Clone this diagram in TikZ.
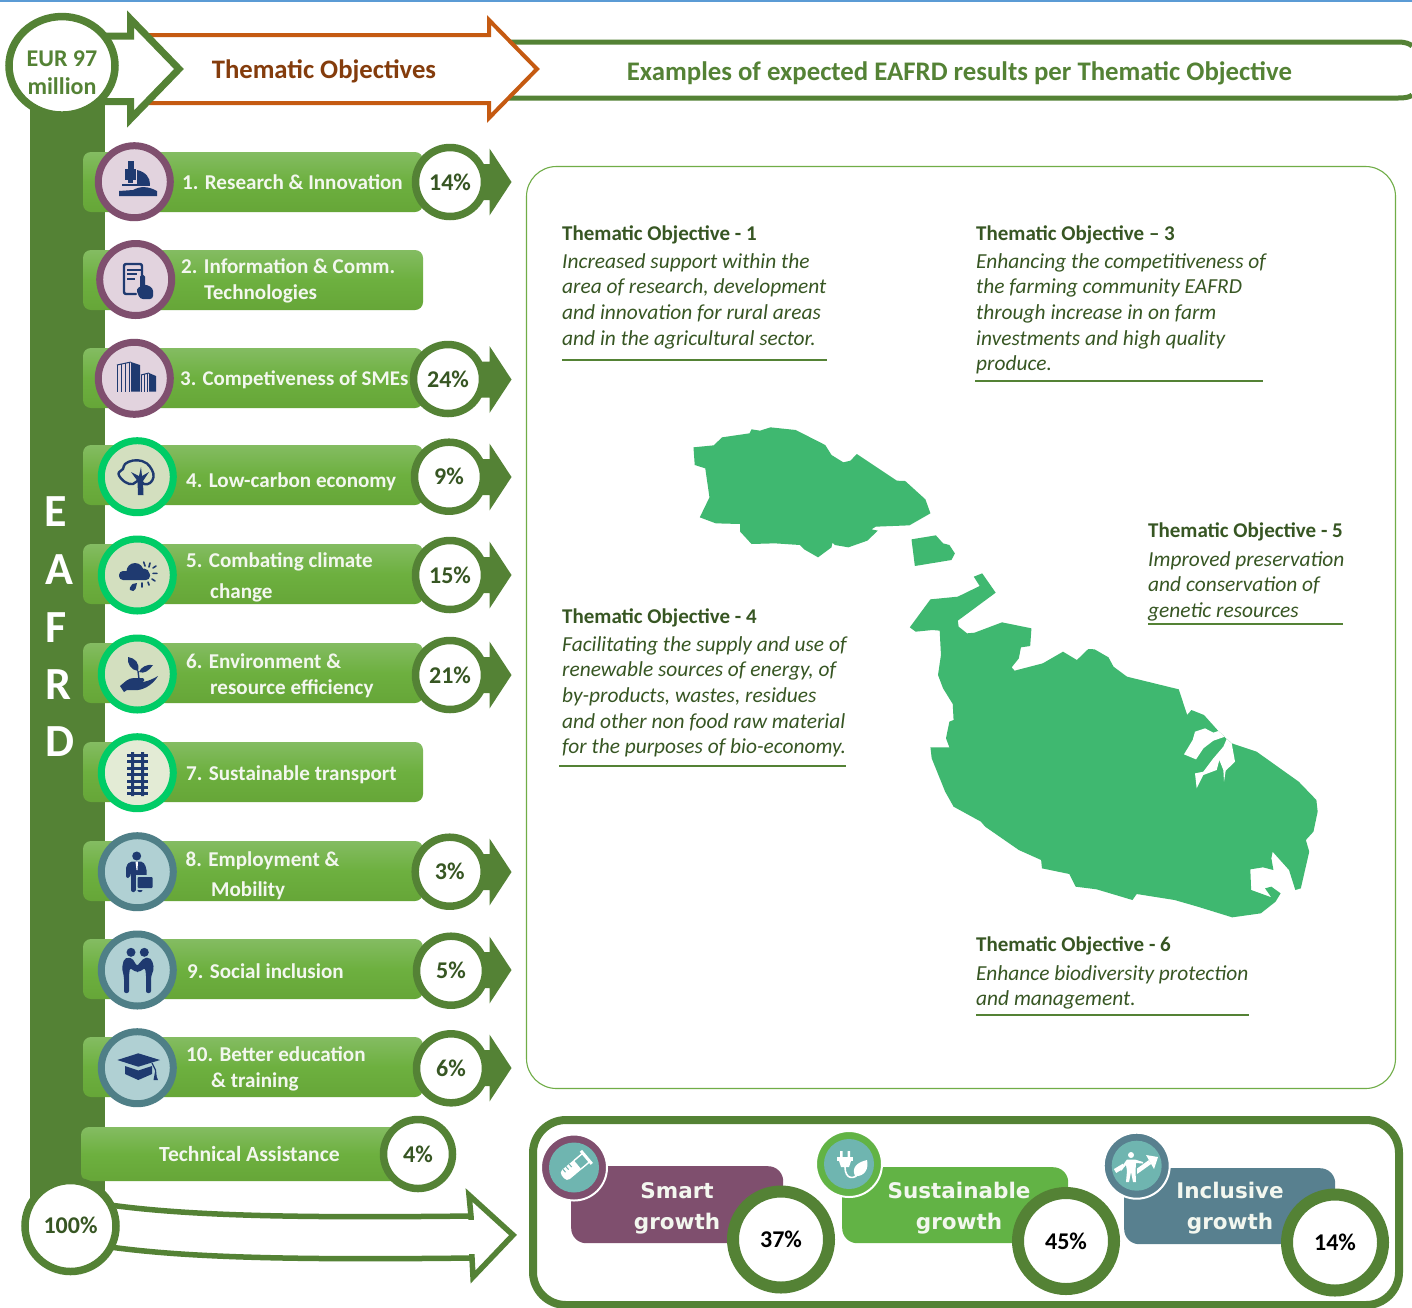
\documentclass[tikz,border=0pt]{standalone}
\usepackage{fontspec}
\usetikzlibrary{shapes.geometric}
\setmainfont{Carlito}
\newfontfamily\dejavu{DejaVu Sans}
\definecolor{band}{HTML}{548235}
\definecolor{dkgreen}{HTML}{375623}
\definecolor{orangeline}{HTML}{C55A11}
\definecolor{brownt}{HTML}{843C0C}
\definecolor{bartop}{HTML}{84BC62}
\definecolor{barmid}{HTML}{6DB03F}
\definecolor{barbot}{HTML}{66A638}
\definecolor{purp}{HTML}{7F4F6E}
\definecolor{purpfill}{HTML}{E2D3DE}
\definecolor{brightg}{HTML}{00CC66}
\definecolor{leaffill}{HTML}{D3DFBF}
\definecolor{railfill}{HTML}{E3EBD5}
\definecolor{tealring}{HTML}{4F7F87}
\definecolor{tealfill}{HTML}{B0D0D3}
\definecolor{navy}{HTML}{1F3A70}
\definecolor{mapg}{HTML}{3FB870}
\definecolor{sgreen}{HTML}{62B345}
\definecolor{steal}{HTML}{58808F}
\definecolor{iconteal}{HTML}{6FB5B0}
\definecolor{panel}{HTML}{70AD47}
\definecolor{bluebar}{HTML}{5B9BD5}
\definecolor{offw}{HTML}{F3F7EF}
\tikzset{
  barbox/.style={rectangle,rounded corners=8pt,minimum height=60pt,top color=bartop,bottom color=barbot,middle color=barmid,inner sep=0pt},
  ringicon/.style={circle,line width=7pt,minimum size=72pt,inner sep=0pt},
  pct/.style={circle,draw=band,fill=white,line width=7.5pt,minimum size=69pt,inner sep=0pt,text=dkgreen,font=\bfseries\fontsize{24}{28}\selectfont},
  barlabel/.style={anchor=base west,inner sep=0pt,text=offw,font=\bfseries\fontsize{21.1}{25}\selectfont},
  tohead/.style={anchor=base west,inner sep=0pt,text=dkgreen,font=\bfseries\fontsize{21}{25}\selectfont},
  tobody/.style={anchor=north west,inner sep=0pt,text=dkgreen,font=\itshape\fontsize{21.4}{25.6}\selectfont,align=left},
  torule/.style={draw=band,line width=2pt},
  growthbox/.style={anchor=north west,rounded corners=15pt,inner sep=0pt},
  growthlabel/.style={text=offw,inner sep=0pt,align=center,font=\dejavu\bfseries\fontsize{21.5}{31}\selectfont},
  bigpct/.style={circle,draw=band,fill=white,line width=12pt,minimum size=96pt,inner sep=0pt,text=black,font=\bfseries\fontsize{24}{28}\selectfont},
  badge/.style={circle,draw=white,line width=2pt,minimum size=66pt,inner sep=0pt},
  badgein/.style={circle,fill=iconteal,minimum size=50pt,inner sep=0pt},
  letter/.style={inner sep=0pt,text=white,font=\bfseries\fontsize{46}{50}\selectfont},
  navyline/.style={draw=navy,line width=2.4pt,line cap=round,line join=round},
  whiteline/.style={draw=white,line width=1.6pt,line cap=round,line join=round},
}
\newcommand{\smallarrow}[1]{\fill[band] (450,#1-18)--(489.5,#1-18)--(489.5,#1-33.5)--(511.5,#1)--(489.5,#1+33.5)--(489.5,#1+18)--(450,#1+18)--cycle;}
\newcommand{\firstline}{\rule{0pt}{16pt}}
\begin{document}
\begin{tikzpicture}[x=1pt,y=-1pt]
\useasboundingbox (0,0) rectangle (1412,1307);
\fill[white] (0,0) rectangle (1412,1307);
\fill[bluebar] (0,0) rectangle (1412,2);
% header arrows
\draw[band,line width=5pt] (505,42)--(1398,42) .. controls (1406,42) and (1410,44) .. (1412,46);
\draw[band,line width=5pt] (505,98)--(1398,98) .. controls (1406,98) and (1410,97) .. (1412,95);
\draw[orangeline,fill=white,line width=4pt,miter limit=6] (130,35)--(489,35)--(489,20)--(537,69)--(489,118)--(489,103)--(130,103)--cycle;
\draw[band,fill=white,line width=7pt,miter limit=6] (60,36)--(130.5,36)--(130.5,19)--(179,69)--(130.5,119)--(130.5,101.5)--(60,101.5)--cycle;
\node[inner sep=0pt,text=brownt,font=\bfseries\fontsize{26.7}{30}\selectfont] (hto) at (324,71) {Thematic Objectives};
\node[inner sep=0pt,text=band,font=\bfseries\fontsize{26.8}{30}\selectfont] (hex) at (959.5,73) {Examples of expected EAFRD results per Thematic Objective};
% band
\fill[band] (29.5,95) rectangle (105,1205);
\node[letter] (lE) at (56,512) {E};
\node[letter] (lA) at (59,570) {A};
\node[letter] (lF) at (56,628) {F};
\node[letter] (lR) at (58,685) {R};
\node[letter] (lD) at (60,742) {D};
\node[ellipse,draw=band,fill=white,line width=7.5pt,minimum width=106pt,minimum height=98.5pt,inner sep=0pt] (eur) at (62,65.8) {};
\node[inner sep=0pt,text=band,align=center,font=\bfseries\fontsize{24}{28}\selectfont] (eurt) at (62,72.5) {EUR 97\\million};
% small arrows
\smallarrow{182}\smallarrow{379.5}\smallarrow{477}\smallarrow{575}\smallarrow{675}\smallarrow{872}\smallarrow{970}\smallarrow{1068}
% bars
\foreach \n/\y in {1/182,2/280,3/378,4/475,5/574,6/673,7/772,8/871,9/969,10/1067}{
  \node[barbox,minimum width=340pt] (bar\n) at (253,\y) {};
}
\node[barbox,minimum width=330pt,minimum height=54pt] (barta) at (246,1154) {};
% bar labels
\node[barlabel] (b1) at (182,189) {1. Research \& Innovation};
\node[barlabel] (b2a) at (181,273) {2. Information \& Comm.};
\node[barlabel] (b2b) at (204,299) {Technologies};
\node[barlabel,font=\bfseries\fontsize{20.9}{25}\selectfont] (b3) at (180,385) {3. Competiveness of SMEs};
\node[barlabel] (b4) at (186,487) {4. Low-carbon economy};
\node[barlabel] (b5a) at (186,567) {5. Combating climate};
\node[barlabel] (b5b) at (210,598) {change};
\node[barlabel] (b6a) at (186,668) {6. Environment \&};
\node[barlabel] (b6b) at (210,694) {resource efficiency};
\node[barlabel] (b7) at (186,780) {7. Sustainable transport};
\node[barlabel] (b8a) at (185.5,866) {8. Employment \&};
\node[barlabel] (b8b) at (211,896) {Mobility};
\node[barlabel] (b9) at (187,978) {9. Social inclusion};
\node[barlabel] (b10a) at (186,1061) {10. Better education};
\node[barlabel] (b10b) at (211,1087) {\& training};
\node[barlabel,font=\bfseries\fontsize{21.6}{25}\selectfont] (bta) at (159,1161) {Technical Assistance};
% pct
\node[pct] (p1) at (450,182) {14\%};
\node[pct] (p3) at (448,379) {24\%};
\node[pct] (p4) at (449,476.7) {9\%};
\node[pct] (p5) at (450,575) {15\%};
\node[pct] (p6) at (450,675) {21\%};
\node[pct] (p8) at (449.7,871.7) {3\%};
\node[pct] (p9) at (451,970.7) {5\%};
\node[pct] (p10) at (451,1068.3) {6\%};
\node[pct] (pta) at (418,1154) {4\%};
% icon rings
\node[ringicon,draw=purp,fill=purpfill] (i1) at (134.3,181.7) {};
\node[ringicon,draw=purp,fill=purpfill] (i2) at (135.7,279.5) {};
\node[ringicon,draw=purp,fill=purpfill] (i3) at (134.3,378.3) {};
\node[ringicon,draw=brightg,fill=leaffill] (i4) at (137.3,476.7) {};
\node[ringicon,draw=brightg,fill=leaffill] (i5) at (137.3,575) {};
\node[ringicon,draw=brightg,fill=leaffill] (i6) at (137.3,674) {};
\node[ringicon,draw=brightg,fill=railfill] (i7) at (137.3,772.7) {};
\node[ringicon,draw=tealring,fill=tealfill] (i8) at (137.3,871.7) {};
\node[ringicon,draw=tealring,fill=tealfill] (i9) at (137.3,970) {};
\node[ringicon,draw=tealring,fill=tealfill] (i10) at (137.3,1067.7) {};
% icon 1 microscope
\fill[navy] (119,196)--(119,191)--(133,190) .. controls (140,186) and (148,186) .. (157,191)--(157,196)--cycle;
\fill[navy] (122,184) rectangle (150,186);
\fill[navy] (125,169) rectangle (136,180);
\fill[navy] (127.5,161) rectangle (133.5,169);
\fill[navy] (128,180) rectangle (133,183);
\fill[navy] (137,170) .. controls (146,172) and (150,178) .. (150,184)--(137,184)--cycle;
% icon 2 tablet
\draw[navyline,rounded corners=2pt] (142,277)--(142,264)--(124,264)--(124,294)--(136,294);
\draw[navy,line width=1.4pt] (127,270)--(141,270) (127,274)--(137,274) (127,279)--(135,279);
\fill[navy,rounded corners=1.5pt] (140,275) rectangle (145,292);
\fill[navy,rounded corners=3pt] (136,289)--(145,284)--(153,288)--(153,299)--(140,299)--cycle;
% icon 3 buildings
\draw[navy,line width=1pt] (117,391.7)--(117,365) (121,391.7)--(121,364) (125,391.7)--(125,363) (129,391.7)--(129,362);
\draw[navy,line width=1pt] (117,365)--(131,362);
\fill[navy] (131,362)--(140,365)--(140,391.7)--(131,391.7)--cycle;
\draw[navy,line width=1pt] (141,391.7)--(141,375) (144,391.7)--(144,374) (147,391.7)--(147,373);
\draw[navy,line width=1pt] (141,375)--(149,373);
\fill[navy] (149,373)--(156,376)--(156,391.7)--(149,391.7)--cycle;
% icon 4 tree
\draw[navyline] plot[smooth cycle,tension=0.7] coordinates {(118.5,474)(123,469)(125,464)(133,460.5)(142,461)(147,463.5)(152,470)(153.5,477)(150,483)(144,484)(139,480)(133,484)(125,482)};
\fill[navy] (138,495)--(143.5,495)--(143,481)--(149,472)--(142,476)--(141,467)--(139,476)--(131,472)--(137.5,481)--cycle;
% icon 5 cloud
\fill[navy,rounded corners=4pt] (119,571) rectangle (150,580);
\fill[navy] (135,571.5) circle (8.5);
\fill[navy] (144,574) circle (5.5);
\fill[navy] (132.5,584) .. controls (130,587) and (129,589) .. (130,590) .. controls (132,592) and (135,591) .. (135.5,589) .. controls (136,587) and (137,584) .. (137,583) -- cycle;
\draw[navy,line width=1.6pt,line cap=round] (143.7,562)--(145,566) (150,563)--(149,567) (153,568)--(156,566) (153,573.3)--(157,573.3) (152,579)--(155,581) (148,582)--(149,585) (142,583)--(142,587);
% icon 6 plant
\fill[navy] (128,657) .. controls (135,658) and (140,663) .. (138,671) .. controls (131,670) and (127,664) .. (128,657)--cycle;
\fill[navy] (153,665) .. controls (149,671) and (144,674) .. (139,672) .. controls (141,667) and (147,664) .. (153,665)--cycle;
\draw[navy,line width=1.4pt] (138,671)--(139,679);
\fill[navy] (120,686) .. controls (125,682) and (128,678) .. (134,678)--(143,678) .. controls (145,679) and (145,681) .. (142,682)--(135,682) .. controls (140,683) and (148,682) .. (158,676) .. controls (154,683) and (146,689) .. (138,690)--(127,690)--(124,692)--cycle;
% icon 7 rails
\fill[navy] (131,752) rectangle (134,796) (141,752) rectangle (144,796);
\foreach \ty in {755,761.5,768,774.5,781,787.5,793}{\fill[navy] (126.7,\ty-1.5) rectangle (148.3,\ty+1.5);}
% icon 8 man
\fill[navy] (136.7,856) circle (4.5);
\fill[navy,rounded corners=2pt] (126,878)--(126,866)--(130,861.5)--(143,861.5)--(146.5,868)--(146.5,877)--(142.5,877)--(142.5,892)--(137.5,892)--(137,881)--(136,892)--(131,892)--(131,872)--(130,878)--cycle;
\fill[white] (135.5,861.5)--(138,861.5)--(137.5,870)--(136.5,870)--cycle;
\fill[tealfill] (136,875) rectangle (153.5,889.5);
\fill[navy,rounded corners=1pt] (137.7,877) rectangle (152.7,888);
% icon 9 people
\fill[navy] (131,952.3) circle (4.5) (144.3,952.3) circle (4.5);
\fill[navy,rounded corners=2pt] (122,968)--(124,959)--(128,957.5)--(132,958)--(137,966)--(144,958)--(149,957.5)--(152,960)--(154,968)--(151,977)--(151,993)--(146,993)--(146,974)--(145,968)--(139,972)--(136,972)--(130,968)--(129,975)--(129,993)--(124,993)--(124,977)--cycle;
% icon 10 cap
\fill[navy] (117.3,1060)--(138.3,1053.3)--(160,1060)--(138.3,1066.7)--cycle;
\fill[navy] (125,1066)--(138.3,1070.5)--(152,1066)--(152,1074)--(138.3,1080)--(125,1074)--cycle;
\draw[navy,line width=1.2pt] (152,1063)--(155.5,1070)--(156,1076);
\fill[navy] (155,1072)--(158,1080)--(153.5,1080)--cycle;
% panel
\draw[panel,fill=white,line width=1.1pt,rounded corners=30pt] (526.5,166.5) rectangle (1395.5,1088.5);
% objective texts
\node[tohead] (t1) at (562,240) {Thematic Objective - 1};
\node[tobody] (t1b) at (562,252) {\firstline Increased support within the\\area of research, development\\and innovation for rural areas\\and in the agricultural sector.};
\draw[torule] (562,359.5)--(827,359.5);
\node[tohead] (t3) at (976,240) {Thematic Objective – 3};
\node[tobody] (t3b) at (976,252) {\firstline Enhancing the competitiveness of\\the farming community EAFRD\\through increase in on farm\\investments and high quality\\produce.};
\draw[torule] (975,381)--(1263,381);
\node[tohead] (t5) at (1148,537) {Thematic Objective - 5};
\node[tobody] (t5b) at (1148,550) {\firstline Improved preservation\\and conservation of\\genetic resources};
\draw[torule] (1148,624)--(1343,624);
\node[tohead] (t4) at (562,623) {Thematic Objective - 4};
\node[tobody] (t4b) at (562,635) {\firstline Facilitating the supply and use of\\renewable sources of energy, of\\by-products, wastes, residues\\and other non food raw material\\for the purposes of bio-economy.};
\draw[torule] (559,765.5)--(846,765.5);
\node[tohead] (t6) at (976,951) {Thematic Objective - 6};
\node[tobody] (t6b) at (976,964) {\firstline Enhance biodiversity protection\\and management.};
\draw[torule] (976,1014.5)--(1249,1014.5);
% map
\begin{scope}[shift={(680,410)},x=0.42088pt,y=-0.33333pt]
\fill[mapg] (32,112)--(80,106)--(100,82)--(165,70)--(170,58)--(190,62)--(215,52)--(275,60)--(345,105)--(360,135)--(388,157)--(405,152)--(420,132)--(515,212)--(535,213)--(583,268)--(595,310)--(545,346)--(465,350)--(455,358)--(470,362)--(445,392)--(400,412)--(368,405)--(362,398)--(360,412)--(328,442)--(295,418)--(285,405)--(225,400)--(170,402)--(143,365)--(143,342)--(85,340)--(47,322)--(70,262)--(60,175)--(35,165)--cycle;
\fill[mapg] (550,388)--(608,376)--(625,400)--(640,405)--(653,430)--(645,450)--(558,468)--cycle;
\fill[mapg] (712,528)--(698,500)--(718,490)--(750,548)--(705,590)--(660,632)--(662,650)--(682,670)--(700,668)--(765,637)--(835,655)--(832,708)--(810,712)--(805,745)--(788,772)--(795,782)--(862,760)--(910,725)--(943,750)--(970,717)--(985,718)--(1018,742)--(1030,770)--(1062,800)--(1185,838)--(1205,915)--(1215,900)--(1245,915)--(1279,963)--(1311,1000)--(1370,1025)--(1470,1115)--(1512,1170)--(1515,1205)--(1505,1265)--(1487,1290)--(1495,1325)--(1475,1435)--(1462,1440)--(1447,1380)--(1408,1325)--(1405,1345)--(1410,1380)--(1385,1372)--(1355,1378)--(1357,1440)--(1405,1462)--(1390,1435)--(1405,1430)--(1427,1450)--(1415,1475)--(1380,1510)--(1312,1522)--(1230,1490)--(1175,1470)--(1085,1452)--(1075,1470)--(990,1438)--(940,1430)--(925,1392)--(860,1375)--(858,1350)--(805,1320)--(725,1250)--(715,1235)--(650,1190)--(630,1145)--(598,1045)--(595,1012)--(640,1012)--(632,985)--(640,935)--(650,930)--(648,882)--(625,835)--(613,795)--(620,735)--(617,662)--(600,660)--(560,665)--(546,652)--(595,568)--(660,560)--cycle;
\end{scope}
\begin{scope}[shift={(1170,700)},x=0.33333pt,y=-0.33333pt]
\fill[white] (145,93)--(130,98)--(105,85)--(75,95)--(68,120)--(42,163)--(78,178)--(100,145)--(130,122)--(165,110)--(172,112)--(160,140)--(130,175)--(100,215)--(75,220)--(80,265)--(100,225)--(140,210)--(148,180)--(160,210)--(162,245)--(167,212)--(195,185)--(185,130)--cycle;
\end{scope}
% 100% arrow
\draw[band,line width=5.5pt] (110,1205) .. controls (190,1216) and (300,1218) .. (471,1216);
\draw[band,line width=5.5pt] (110,1247) .. controls (190,1258) and (300,1260) .. (472,1258);
\draw[band,fill=white,line width=5.5pt,miter limit=6] (471,1216)--(469,1195)--(513,1235)--(473,1277)--(472,1258)--cycle;
\fill[white] (466,1220) rectangle (476,1254);
\node[circle,draw=band,fill=white,line width=7.5pt,minimum size=91pt,inner sep=0pt] (cent) at (70.5,1226) {};
\node[inner sep=0pt,text=dkgreen,font=\bfseries\fontsize{24}{28}\selectfont] (centt) at (70.5,1225) {100\%};
% growth frame
\draw[band,line width=8pt,rounded corners=33pt] (533,1120) rectangle (1399,1305);
\node[growthbox,fill=purp,minimum width=212pt,minimum height=77pt] (gs) at (571,1166) {};
\node[growthbox,fill=sgreen,minimum width=226pt,minimum height=76pt] (gg) at (842,1167) {};
\node[growthbox,fill=steal,minimum width=211pt,minimum height=76pt] (gt) at (1124,1168) {};
\node[growthlabel] (gsl) at (677,1208) {Smart\\growth};
\node[growthlabel] (ggl) at (959,1208) {Sustainable\\growth};
\node[growthlabel] (gtl) at (1230,1208) {Inclusive\\growth};
\node[bigpct] (ps) at (781,1239.5) {37\%};
\node[bigpct] (pg) at (1066,1241) {45\%};
\node[bigpct] (pt) at (1335,1242.5) {14\%};
\node[badge,fill=purp] (bs) at (574,1167.5) {};
\node[badgein] (bsi) at (574,1167.5) {};
\node[badge,fill=sgreen] (bg) at (849,1164) {};
\node[badgein] (bgi) at (849,1164) {};
\node[badge,fill=steal] (bt) at (1136.7,1165.7) {};
\node[badgein] (bti) at (1136.7,1165.7) {};
% test tube
\begin{scope}[shift={(576,1166)},rotate=40]
\fill[white,rounded corners=4pt] (-17,-6) rectangle (-2,6);
\fill[white] (-6,-6) rectangle (2,6);
\draw[white,line width=1.4pt] (2,-5.5)--(13,-5.5) (2,5.5)--(13,5.5);
\fill[white] (12,-8.5) rectangle (15,8.5);
\draw[iconteal,line width=1pt] (-4,-6)--(-4,-2) (-8,-6)--(-8,-2) (-12,-6)--(-12,-2);
\end{scope}
% plug and leaf
\fill[white] (837,1157) rectangle (853,1161);
\fill[white] (839,1161)--(851,1161)--(849,1167)--(841,1167)--cycle;
\fill[white] (840,1151) rectangle (842.5,1157) (847.5,1151) rectangle (850,1157);
\draw[whiteline] (845,1167) .. controls (845,1180) and (855,1180) .. (860,1172);
\fill[white] (855,1176) .. controls (851,1167) and (858,1162) .. (867,1160) .. controls (869,1168) and (865,1177) .. (855,1176)--cycle;
% person and arrow
\draw[white,line width=4.5pt] (1115,1171)--(1125,1165) (1136,1172)--(1150,1162);
\fill[white] (1146,1155)--(1158,1157)--(1154,1169)--cycle;
\fill[iconteal] (1123,1156) rectangle (1137,1184);
\fill[white] (1131,1155) circle (3);
\fill[white] (1127,1159.5)--(1135,1159.5)--(1143,1162)--(1143,1163.5)--(1136,1163)--(1135.5,1171)--(1136,1182)--(1133,1182)--(1131,1172)--(1129,1182)--(1126,1182)--(1127,1171)--(1126,1165)--(1121,1171)--(1120,1169)--cycle;
\end{tikzpicture}
\end{document}
